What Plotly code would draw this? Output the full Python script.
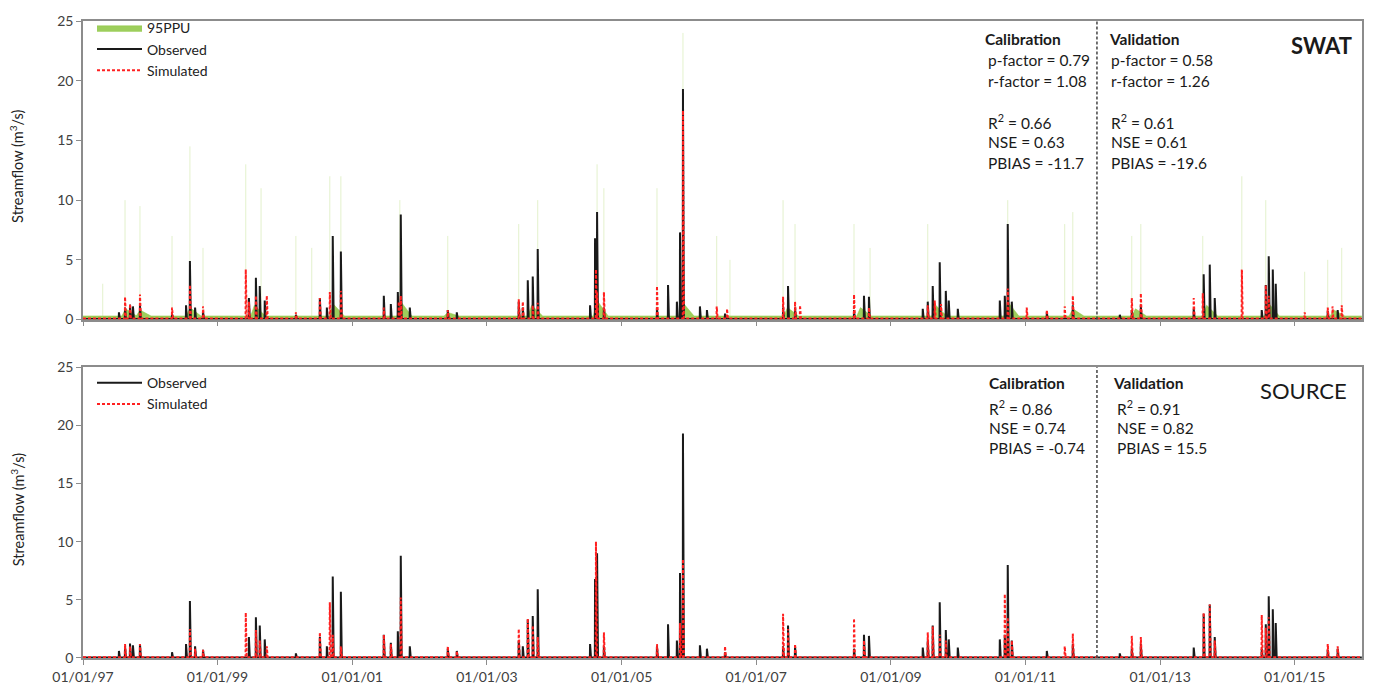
import pandas as pd
import plotly.graph_objects as go

# ---------------------------------------------------------------------------
# Daily streamflow (m3/s): event peaks on a low baseflow
# ---------------------------------------------------------------------------
obs_dates = [
    "1997-07-15", "1997-08-17", "1997-09-13", "1997-09-29", "1997-11-06",
    "1998-04-29", "1998-07-14", "1998-08-04", "1998-09-01", "1998-10-14",
    "1999-06-20", "1999-07-28", "1999-08-18", "1999-09-14", "2000-03-01",
    "2000-07-09", "2000-08-16", "2000-09-17", "2000-10-31", "2001-06-21",
    "2001-07-29", "2001-09-05", "2001-09-21", "2001-11-09", "2002-06-03",
    "2002-07-22", "2003-06-23", "2003-07-15", "2003-08-11", "2003-09-07",
    "2003-10-04", "2004-07-14", "2004-08-10", "2004-08-21", "2004-09-27",
    "2005-07-12", "2005-09-10", "2005-10-28", "2005-11-14", "2005-11-30",
    "2006-03-02", "2006-04-09", "2006-07-16", "2007-05-27", "2007-06-23",
    "2007-07-31", "2008-06-15", "2008-08-08", "2008-09-04", "2009-06-23",
    "2009-07-20", "2009-08-16", "2009-09-23", "2009-10-26", "2009-11-11",
    "2009-12-30", "2010-08-15", "2010-09-11", "2010-09-27", "2010-10-19",
    "2011-04-27", "2011-09-15", "2012-05-27", "2012-07-31", "2012-09-18",
    "2013-07-02", "2013-08-25", "2013-09-27", "2013-10-24", "2014-07-06",
    "2014-07-28", "2014-08-13", "2014-09-04", "2014-09-20", "2015-06-29",
    "2015-08-22",
]
obs_peaks = [
    0.6, 1.0, 1.25, 1.1, 1.2,
    0.5, 1.2, 4.9, 1.0, 0.7,
    1.8, 3.5, 2.8, 1.6, 0.4,
    1.8, 1.0, 7.0, 5.7, 2.0,
    1.3, 2.3, 8.8, 1.0, 0.8,
    0.6, 1.5, 1.0, 3.3, 3.6,
    5.9, 1.2, 6.8, 9.0, 1.0,
    1.0, 2.9, 1.5, 7.3, 19.3,
    1.1, 0.8, 0.5, 1.0, 2.8,
    1.0, 0.8, 2.0, 1.9, 0.9,
    1.5, 2.8, 4.8, 2.4, 1.6,
    0.9, 1.6, 2.0, 8.0, 1.5,
    0.6, 1.2, 0.4, 0.8, 1.2,
    0.9, 3.8, 4.6, 1.8, 0.8,
    2.9, 5.3, 4.2, 3.0, 0.7,
    0.8,
]
obs_base = 0.05

swat_dates = [
    "1997-08-17", "1997-09-13", "1997-11-06", "1998-04-29", "1998-08-04",
    "1998-10-14", "1999-06-03", "1999-06-20", "1999-07-28", "1999-09-25",
    "2000-03-01", "2000-07-09", "2000-09-01", "2000-10-31", "2001-06-21",
    "2001-09-10", "2001-09-21", "2002-06-03", "2003-06-23", "2003-07-15",
    "2003-09-07", "2003-10-04", "2004-08-15", "2004-08-21", "2004-09-27",
    "2005-07-12", "2005-11-30", "2006-06-01", "2006-07-27", "2007-05-27",
    "2007-07-31", "2007-08-27", "2008-06-15", "2008-09-04", "2009-07-20",
    "2009-08-27", "2009-09-30", "2010-09-27", "2011-01-08", "2011-04-27",
    "2011-08-02", "2011-09-15", "2012-07-31", "2012-09-18", "2013-07-02",
    "2013-08-20", "2014-03-20", "2014-07-28", "2014-08-13", "2015-02-24",
    "2015-06-29", "2015-07-25", "2015-09-13",
]
swat_peaks = [
    1.9, 1.3, 2.1, 1.0, 2.9,
    1.1, 4.2, 1.5, 2.0, 2.0,
    0.6, 1.8, 2.3, 2.4, 1.0,
    1.5, 2.0, 0.8, 1.7, 1.5,
    1.2, 1.4, 4.2, 2.3, 2.3,
    2.8, 17.5, 1.1, 0.9, 1.9,
    1.5, 1.2, 2.1, 1.0, 1.2,
    1.6, 1.3, 2.6, 1.0, 0.8,
    1.1, 2.0, 1.8, 2.2, 1.8,
    2.2, 4.2, 2.9, 2.0, 0.6,
    1.0, 1.1, 1.2,
]
swat_base = 0.08

source_dates = [
    "1997-08-17", "1997-09-13", "1997-11-06", "1998-08-04", "1998-09-01",
    "1998-10-14", "1999-06-03", "1999-07-28", "1999-08-18", "1999-09-25",
    "2000-07-09", "2000-09-01", "2000-09-17", "2000-10-31", "2001-06-21",
    "2001-07-29", "2001-09-21", "2002-06-03", "2002-07-22", "2003-06-23",
    "2003-08-11", "2003-09-07", "2003-10-04", "2004-08-15", "2004-09-27",
    "2005-07-12", "2005-11-14", "2005-11-30", "2006-07-16", "2007-05-27",
    "2007-06-23", "2007-07-31", "2008-06-15", "2008-08-08", "2009-07-20",
    "2009-08-16", "2009-09-23", "2009-10-26", "2010-09-11", "2010-09-27",
    "2010-10-19", "2011-08-02", "2011-09-15", "2012-07-31", "2012-09-18",
    "2013-08-25", "2013-09-27", "2013-10-24", "2014-07-06", "2014-07-28",
    "2014-08-13", "2015-06-29", "2015-08-22",
]
source_peaks = [
    1.2, 1.0, 1.2, 2.5, 0.8,
    0.7, 3.9, 2.4, 1.5, 1.0,
    2.2, 4.8, 2.0, 1.0, 2.0,
    1.2, 5.2, 1.0, 0.6, 2.5,
    3.4, 2.8, 1.8, 10.0, 2.2,
    1.2, 3.0, 8.5, 1.0, 3.8,
    2.5, 1.2, 3.4, 1.5, 2.2,
    2.7, 2.0, 1.5, 5.5, 3.5,
    1.5, 1.0, 2.1, 1.9, 1.8,
    3.9, 4.6, 1.5, 3.7, 2.6,
    3.5, 1.2, 1.0,
]
source_base = 0.06

# 95PPU upper bound: storm-day maxima and the wetter seasonal envelope
ppu_spike_dates = [
    "1997-04-18", "1997-08-17", "1997-11-06", "1998-04-29", "1998-08-04",
    "1998-10-14", "1999-06-03", "1999-08-25", "2000-03-01", "2000-05-26",
    "2000-09-01", "2000-10-31", "2001-09-16", "2002-06-03", "2003-06-23",
    "2003-10-04", "2004-08-21", "2004-09-27", "2005-07-12", "2005-11-30",
    "2006-06-01", "2006-08-12", "2007-05-27", "2007-07-31", "2008-06-15",
    "2008-09-10", "2009-07-20", "2010-09-27", "2011-08-02", "2011-09-15",
    "2012-07-31", "2012-09-18", "2013-08-20", "2014-03-20", "2014-07-28",
    "2015-02-24", "2015-06-29", "2015-09-13",
]
ppu_spike_upper = [
    3.0, 10.0, 9.5, 7.0, 14.5,
    6.0, 13.0, 11.0, 7.0, 6.0,
    12.0, 12.0, 10.0, 7.0, 8.0,
    10.0, 13.0, 11.0, 11.0, 24.0,
    7.0, 5.0, 10.0, 8.0, 8.0,
    6.0, 8.0, 10.0, 8.0, 9.0,
    7.0, 8.0, 7.0, 12.0, 10.0,
    4.0, 5.0, 6.0,
]
ppu_season_dates = [
    "1997-08-20", "1997-11-06", "1998-08-04", "1999-07-20", "2000-09-20",
    "2001-09-21", "2002-06-03", "2003-09-01", "2004-08-21", "2005-11-30",
    "2007-06-20", "2008-07-20", "2009-09-01", "2010-09-27", "2011-09-15",
    "2012-08-20", "2013-09-10", "2014-08-10", "2015-08-01",
]
ppu_season_upper = [
    0.9, 0.8, 1.0, 1.2, 1.3,
    1.5, 0.6, 1.2, 1.6, 1.4,
    1.0, 1.0, 1.2, 1.5, 0.9,
    0.9, 1.2, 1.4, 0.8,
]
ppu_base = 0.3

validation_start = "2012-01-24"
period_start, period_end = "1997-01-01", "2016-01-01"

swat_cal = ["p-factor = 0.79", "r-factor = 1.08", "", "R<sup>2</sup> = 0.66",
            "NSE = 0.63", "PBIAS = -11.7"]
swat_val = ["p-factor = 0.58", "r-factor = 1.26", "", "R<sup>2</sup> = 0.61",
            "NSE = 0.61", "PBIAS = -19.6"]
source_cal = ["R<sup>2</sup> = 0.86", "NSE = 0.74", "PBIAS = -0.74"]
source_val = ["R<sup>2</sup> = 0.91", "NSE = 0.82", "PBIAS = 15.5"]

# ---------------------------------------------------------------------------
days = pd.date_range(period_start, "2015-12-31", freq="D")


def daily(dates, peaks, base):
    s = pd.Series(base, index=days, dtype=float)
    s.loc[pd.to_datetime(dates)] = peaks
    return s


obs = daily(obs_dates, obs_peaks, obs_base)
swat = daily(swat_dates, swat_peaks, swat_base)
source = daily(source_dates, source_peaks, source_base)

# seasonal envelope of the uncertainty band
band_x, band_y = [days[0]], [ppu_base]
for d, h in zip(pd.to_datetime(ppu_season_dates), ppu_season_upper):
    band_x += [d - pd.Timedelta(days=20), d, d + pd.Timedelta(days=60)]
    band_y += [ppu_base, h, ppu_base]
band_x.append(days[-1])
band_y.append(ppu_base)

spike_x, spike_y = [], []
for d, v in zip(pd.to_datetime(ppu_spike_dates), ppu_spike_upper):
    spike_x += [d, d, None]
    spike_y += [0, v, None]

FONT = "Lato"
GREEN = "#8CC63F"
BLACK = "#1a1a1a"
RED = "#FF2020"
AXIS = "#8c8c8c"

W, H = 1376, 697
ML, MR, MT, MB = 83, 14, 15, 27
PW, PH = W - ML - MR, H - MT - MB


def px(x):
    return (x - ML) / PW


def py(y):
    return (H - MB - y) / PH


fig = go.Figure()

fig.add_trace(go.Scatter(
    x=band_x, y=band_y, mode="lines", fill="tozeroy", name="95PPU",
    line=dict(color=GREEN, width=0.5), fillcolor="rgba(140,198,63,0.85)",
    xaxis="x", yaxis="y", legend="legend", hoverinfo="skip"))
fig.add_trace(go.Scatter(
    x=spike_x, y=spike_y, mode="lines", showlegend=False,
    line=dict(color="rgba(175,215,110,0.35)", width=1),
    xaxis="x", yaxis="y", hoverinfo="skip"))
fig.add_trace(go.Scatter(
    x=obs.index, y=obs.values, mode="lines", name="Observed",
    line=dict(color=BLACK, width=2), xaxis="x", yaxis="y", legend="legend"))
fig.add_trace(go.Scatter(
    x=swat.index, y=swat.values, mode="lines", name="Simulated",
    line=dict(color=RED, width=2, dash="3px,2px"),
    xaxis="x", yaxis="y", legend="legend"))

fig.add_trace(go.Scatter(
    x=obs.index, y=obs.values, mode="lines", name="Observed",
    line=dict(color=BLACK, width=2), xaxis="x2", yaxis="y2", legend="legend2"))
fig.add_trace(go.Scatter(
    x=source.index, y=source.values, mode="lines", name="Simulated",
    line=dict(color=RED, width=2, dash="3px,2px"),
    xaxis="x2", yaxis="y2", legend="legend2"))

axis_common = dict(showline=True, linecolor=AXIS, linewidth=1.5, mirror=True,
                   showgrid=False, zeroline=False, ticks="outside", ticklen=5,
                   tickcolor=AXIS, tickfont=dict(family=FONT, size=14, color="#404040"))

fig.update_layout(
    width=W, height=H, margin=dict(l=ML, r=MR, t=MT, b=MB),
    paper_bgcolor="white", plot_bgcolor="white",
    font=dict(family=FONT, size=14, color="#222"),
    xaxis=dict(domain=[0, 1], anchor="y", type="date",
               range=[period_start, period_end], dtick="M24",
               tick0=period_start, showticklabels=False, **axis_common),
    yaxis=dict(domain=[py(322), 1], anchor="x", range=[0, 25], dtick=5,
               **axis_common),
    xaxis2=dict(domain=[0, 1], anchor="y2", type="date",
                range=[period_start, period_end], dtick="M24",
                tick0=period_start, tickformat="%d/%m/%y", **axis_common),
    yaxis2=dict(domain=[0, py(371)], anchor="x2", range=[0, 25], dtick=5,
                **axis_common),
    legend=dict(x=px(92), y=py(6), xanchor="left", yanchor="top",
                bgcolor="rgba(0,0,0,0)", itemwidth=45,
                font=dict(family=FONT, size=14, color="#222")),
    legend2=dict(x=px(92), y=py(371), xanchor="left", yanchor="top",
                 bgcolor="rgba(0,0,0,0)", itemwidth=45,
                 font=dict(family=FONT, size=14, color="#222")),
    showlegend=True,
)

# calibration / validation split
for yref in ("y domain", "y2 domain"):
    xr = "x" if yref.startswith("y ") else "x2"
    fig.add_shape(type="line", xref=xr, yref=yref,
                  x0=validation_start, x1=validation_start, y0=0, y1=1,
                  line=dict(color="#444", width=1.5, dash="3px,2px"))

ann = []


def text(x, y, s, size=15.5, bold=False, anchor="left"):
    ann.append(dict(xref="paper", yref="paper", x=px(x), y=py(y), text=f"<b>{s}</b>" if bold else s,
                    showarrow=False, xanchor=anchor, yanchor="middle",
                    font=dict(family=FONT, size=size, color="#1a1a1a")))


text(983, 33, "Calibration", bold=True)
text(1107, 33, "Validation", bold=True)
for i, (c, v) in enumerate(zip(swat_cal, swat_val)):
    if c:
        text(986, 55 + i * 21.2, c)
        text(1109, 55 + i * 21.2, v)
text(1354, 40, "SWAT", size=22, bold=True, anchor="right")

text(987, 387, "Calibration", bold=True)
text(1111, 387, "Validation", bold=True)
for i, (c, v) in enumerate(zip(source_cal, source_val)):
    text(987, 412 + i * 21, c)
    text(1115, 412 + i * 21, v)
text(1349, 395, "SOURCE", size=22, anchor="right")

for yc in (165, 518):
    ann.append(dict(xref="paper", yref="paper", x=px(17), y=py(yc),
                    text="Streamflow (m<sup>3</sup>/s)", textangle=-90,
                    showarrow=False, xanchor="center", yanchor="middle",
                    font=dict(family=FONT, size=14.5, color="#222")))

fig.update_layout(annotations=ann)
fig.write_html("out.html")
